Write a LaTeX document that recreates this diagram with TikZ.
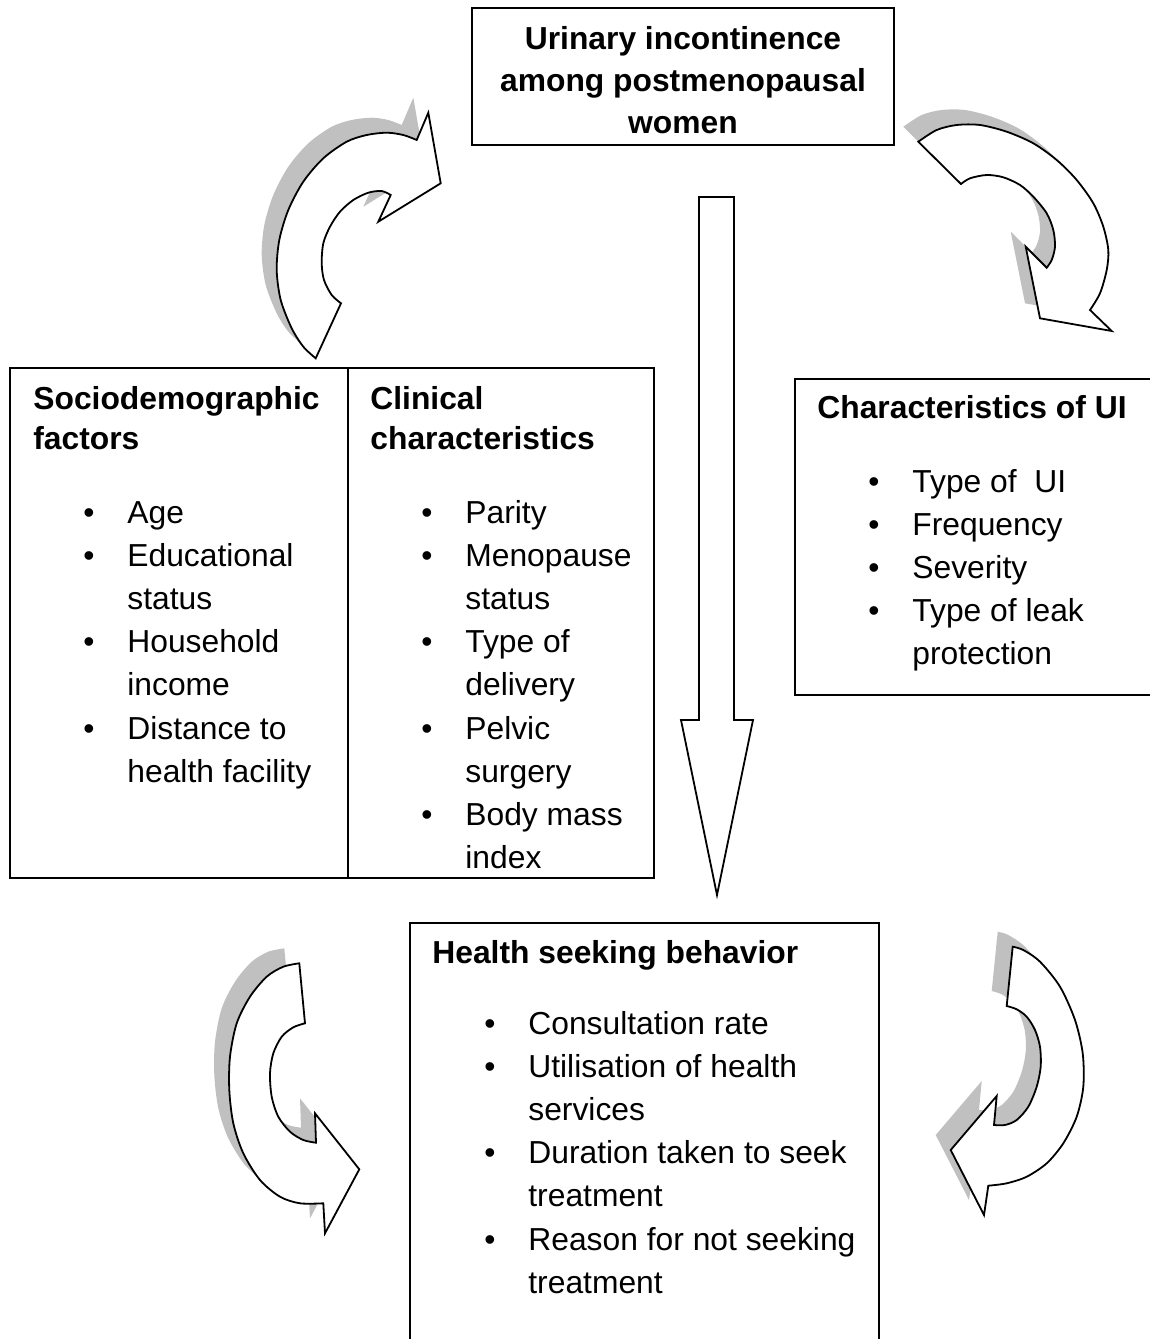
\documentclass[tikz,border=0pt]{standalone}
\usepackage{fontspec}
\setmainfont{Liberation Sans}
\usepackage{tikz}

\definecolor{shadowgray}{RGB}{192,192,192}
\newcommand{\bul}{\makebox[22pt][l]{\textbullet}}

\begin{document}
\begin{tikzpicture}
[
    x = 0.5pt, y = -0.5pt,
    frame/.style = {draw, line width = 1pt},
    heading/.style = {anchor = base west, inner sep = 0pt, font = \fontsize{15.9}{20}\selectfont\bfseries},
    items/.style = {anchor = base west, inner sep = 0pt, font = \fontsize{15.9}{21.6}\selectfont},
    curved/.style = {draw, fill = white, line width = 0.9pt,
        preaction = {fill = shadowgray, transform canvas = {shift = {(-15,-15)}}}},
]
    \useasboundingbox (0,0) rectangle (1150,1339);
    \clip (0,0) rectangle (1150,1339);

    % boxes
    \draw[frame] (472,8) rectangle (894,145);
    \draw[frame] (10,368) rectangle (654,878);
    \draw[frame] (348,368) -- (348,878);
    \draw[frame] (795,379) rectangle (1170,695);
    \draw[frame] (410,923) rectangle (879,1360);

    \node[heading, anchor = base, font = \fontsize{15.9}{21}\selectfont\bfseries] (title) at (683,49)
        {\begin{tabular}[t]{@{}c@{}}
            Urinary incontinence\\
            among postmenopausal\\
            women
        \end{tabular}};

    \node[heading] (socioHead) at (33,409)
        {\begin{tabular}[t]{@{}l@{}}Sociodemographic\\factors\end{tabular}};
    \node[items] (socioList) at (83,523)
        {\begin{tabular}[t]{@{}l@{}l@{}}
            \bul & Age\\
            \bul & Educational\\
                 & status\\
            \bul & Household\\
                 & income\\
            \bul & Distance to\\
                 & health facility
        \end{tabular}};

    \node[heading] (clinHead) at (370,409)
        {\begin{tabular}[t]{@{}l@{}}Clinical\\characteristics\end{tabular}};
    \node[items] (clinList) at (421,523)
        {\begin{tabular}[t]{@{}l@{}l@{}}
            \bul & Parity\\
            \bul & Menopause\\
                 & status\\
            \bul & Type of\\
                 & delivery\\
            \bul & Pelvic\\
                 & surgery\\
            \bul & Body mass\\
                 & index
        \end{tabular}};

    \node[heading] (charHead) at (817,418) {Characteristics of UI};
    \node[items] (charList) at (868,492)
        {\begin{tabular}[t]{@{}l@{}l@{}}
            \bul & Type of\ \ UI\\
            \bul & Frequency\\
            \bul & Severity\\
            \bul & Type of leak\\
                 & protection
        \end{tabular}};

    \node[heading] (healthHead) at (432,963) {Health seeking behavior};
    \node[items] (healthList) at (484,1034)
        {\begin{tabular}[t]{@{}l@{}l@{}}
            \bul & Consultation rate\\
            \bul & Utilisation of health\\
                 & services\\
            \bul & Duration taken to seek\\
                 & treatment\\
            \bul & Reason for not seeking\\
                 & treatment
        \end{tabular}};

    % straight arrow down
    \draw[line width = 0.9pt] (699,197) -- (734,197) -- (734,720) -- (753,720) -- (717,895)
        -- (681,720) -- (699,720) -- cycle;

    % curved arrows with shadow
    \draw[curved] (315.7,358.3)
        -- plot[smooth] coordinates {(341,303.3) (331.7,295) (324,280) (321.7,263.3) (323.3,243.3) (330,226.7) (340,211.7) (353.3,200) (368.3,192.7) (381.7,191) (390.7,195)}
        -- (378.3,221.7) -- (440.7,183.3) -- (428.3,112.7) -- (416.7,140)
        -- plot[smooth] coordinates {(416.7,140) (403.3,135) (386.7,132.7) (366.7,135) (346.7,141.7) (323.3,158.3) (303.3,181.7) (288.3,210) (279.3,240) (276.7,270) (280.7,300) (291.7,328.3) (303.3,346.7) (315.7,358.3)}
        -- cycle;

    \draw[curved] (918.3,141.7)
        -- plot[smooth] coordinates {(961,184) (970,178.3) (986.7,175) (1003.3,177.3) (1020,185) (1033.3,196.7) (1046.7,213.3) (1053.3,230) (1055,246.7) (1051.7,260) (1046.7,267.7)}
        -- (1025.7,246.7) -- (1040,318.3) -- (1111.7,331) -- (1090,310)
        -- plot[smooth] coordinates {(1090,310) (1100,293.3) (1106.7,270) (1108.3,250) (1103.3,226.7) (1093.3,203.3) (1076.7,180) (1056.7,160) (1033.3,143.3) (1006.7,131.7) (980,125) (956.7,125) (936.7,130) (918.3,141.7)}
        -- cycle;

    \draw[curved] (299.3,963.3)
        -- plot[smooth] coordinates {(305,1023.3) (293.3,1027.3) (281.7,1036.7) (273.3,1053.3) (270,1073.3) (271.7,1096.7) (278.3,1116.7) (290,1131.7) (303.3,1140) (316,1142.7)}
        -- (315,1113.3) -- (359.3,1169.3) -- (325,1233.3) -- (323.3,1203.3)
        -- plot[smooth] coordinates {(323.3,1203.3) (300,1203.3) (280,1196.7) (260,1180) (243.3,1153.3) (233.3,1123.3) (229.3,1090) (230,1056.7) (236.7,1023.3) (250,996.7) (266.7,976.7) (283.3,966.7) (299.3,963.3)}
        -- cycle;

    \draw[curved] (1012.7,946.7)
        -- plot[smooth] coordinates {(1006.7,1006) (1016.7,1009.3) (1026.7,1016.7) (1035,1030) (1040,1046.7) (1040.7,1066.7) (1036.7,1086.7) (1028.3,1106.7) (1016.7,1120) (1005,1125) (994,1125)}
        -- (996.7,1096) -- (950.7,1150) -- (984,1215) -- (988.3,1185.7)
        -- plot[smooth] coordinates {(988.3,1185.7) (1006.7,1183.3) (1026.7,1176.7) (1046.7,1163.3) (1063.3,1143.3) (1076.7,1116.7) (1083.3,1086.7) (1082.7,1053.3) (1075,1020) (1060,986.7) (1040,961.7) (1023.3,950) (1012.7,946.7)}
        -- cycle;
\end{tikzpicture}
\end{document}
